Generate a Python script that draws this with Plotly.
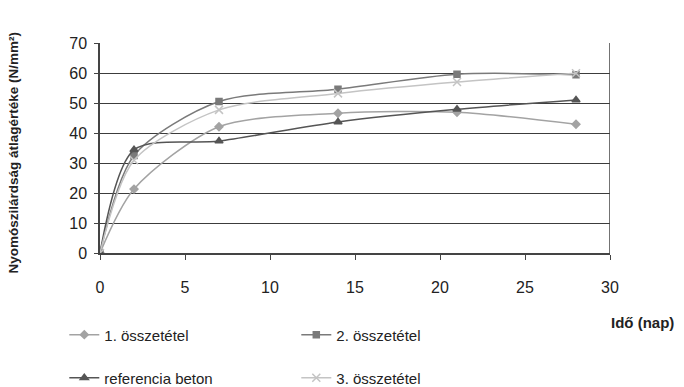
import plotly.graph_objects as go

days = [0, 2, 7, 14, 21, 28]
s1 = [0, 21.3, 42.1, 46.6, 46.9, 42.9]
s2 = [0, 32.5, 50.5, 54.6, 59.6, 59.4]
ref = [0, 34.4, 37.3, 43.7, 47.9, 51.0]
s3 = [0, 30.9, 47.7, 53.2, 57.0, 59.9]

names = ["1. összetétel", "2. összetétel", "referencia beton", "3. összetétel"]
FONT = "Liberation Sans"

fig = go.Figure()
specs = [
    (s1, names[0], "#a3a3a3", "diamond", 6, "legend"),
    (s2, names[1], "#7a7a7a", "square", 6, "legend"),
    (ref, names[2], "#555555", "triangle-up", 7, "legend2"),
    (s3, names[3], "#c4c4c4", "x-thin", 8, "legend2"),
]
for ys, nm, col, sym, sz, lg in specs:
    fig.add_trace(go.Scatter(
        x=days, y=ys, name=nm, mode="lines+markers",
        line=dict(color=col, width=1.5, shape="spline", smoothing=0.8),
        marker=dict(symbol=sym, size=sz, color=col, line=dict(color=col, width=1.5)),
        legend=lg,
    ))

leg = dict(orientation="h", x=-0.07, xref="paper", yanchor="middle",
           xanchor="left", entrywidth=187, font=dict(size=15, family=FONT, color="#222"),
           bgcolor="rgba(0,0,0,0)", itemwidth=30)

fig.update_layout(
    width=684, height=387,
    margin=dict(l=100, r=74, t=43, b=134, autoexpand=False),
    paper_bgcolor="white", plot_bgcolor="white",
    font=dict(family=FONT, size=15, color="#222"),
    xaxis=dict(range=[0, 30], tickvals=[0, 5, 10, 15, 20, 25, 30], showgrid=False,
               zeroline=False, showline=True, linecolor="#444", linewidth=1.5,
               ticks="outside", ticklen=5, tickcolor="#444", automargin=False,
               ticklabelstandoff=14, tickfont=dict(size=16)),
    yaxis=dict(range=[0, 70], tickvals=list(range(0, 71, 10)), showgrid=True,
               gridcolor="#3c3c3c", gridwidth=1, zeroline=False, showline=True,
               linecolor="#444", linewidth=1.5, ticks="outside", ticklen=4, tickcolor="#444",
               automargin=False, tickfont=dict(size=16), ticklabelstandoff=4),
    legend=dict(leg, y=-0.39),
    legend2=dict(leg, y=-0.595),
    showlegend=True,
)
# right border of plot area
fig.add_shape(type="line", xref="x", yref="paper", x0=30, x1=30, y0=0, y1=1,
              line=dict(color="#444", width=1.5))

fig.add_annotation(text="<b>Nyomószilárdság átlagértéke (N/mm²)</b>", xref="paper", yref="paper",
                   x=-0.17, y=0.48, textangle=-90, showarrow=False, xanchor="center",
                   font=dict(size=13.5, family=FONT, color="#222"))
fig.add_annotation(text="<b>Idő (nap)</b>", xref="paper", yref="paper",
                   x=1.13, y=-0.33, showarrow=False, xanchor="right", yanchor="middle",
                   font=dict(size=15, family=FONT, color="#222"))

fig.write_html("out.html")
